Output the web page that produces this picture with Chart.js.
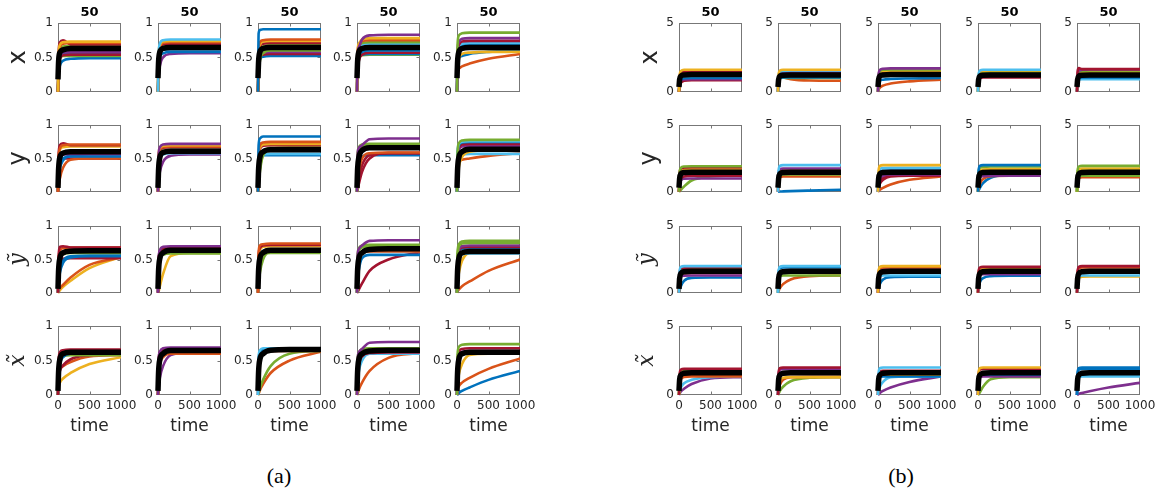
<!DOCTYPE html>
<html>
<head>
<meta charset="utf-8">
<script src="https://cdn.jsdelivr.net/npm/chart.js@4.4.0/dist/chart.umd.min.js"></script>
<style>
  body { margin: 0; background: #fff; width: 1163px; height: 491px; position: relative; overflow: hidden; }
  canvas { position: absolute; }
  .cap { position: absolute; font-family: 'Liberation Serif', serif; font-size: 22px; color: #000; transform: translateX(-50%); }
</style>
</head>
<body>
<div class="cap" style="left:279px; top:463px">(a)</div>
<div class="cap" style="left:901px; top:463px">(b)</div>
<script>
// sample times shared by every curve
const timeGrid = [0, 10, 30, 80, 200, 500, 1000];
const xTickValues = [0, 500, 1000];
const yTicksA = [0, 0.5, 1];
const yTicksB = [0, 5];
const rowLabels = ['x', 'y', '\u1EF9', 'x\u0303'];
const columnTitle = '50';
const timeLabel = 'time';

// b o y p g c r = matlab default order, k = mean curve
const lineColors = { b: '#0072BD', o: '#D95319', y: '#EDB120', p: '#7E2F8E', g: '#77AC30', c: '#4DBEEE', r: '#A2142F', k: '#000000' };

// panel (a), one entry per column: [color, values at timeGrid...]
const aRowX = [
  [['y',0,.55,.68,.72,.73,.73,.73],['o',0,.5,.65,.7,.71,.71,.71],['r',0,.55,.72,.75,.69,.69,.69],['g',0,.45,.6,.66,.67,.67,.67],
   ['c',0,.4,.55,.62,.63,.63,.63],['p',0,.4,.52,.57,.58,.58,.58],['r',0,.35,.48,.53,.54,.54,.54],['g',0,.4,.5,.52,.52,.52,.52],
   ['b',0,.35,.5,.55,.56,.56,.56],['b',0,.25,.38,.45,.48,.49,.49],['k',.18,.45,.57,.61,.63,.63,.63]],
  [['c',0,.55,.7,.75,.76,.76,.76],['y',0,.55,.68,.73,.74,.74,.74],['o',0,.5,.65,.71,.72,.72,.72],['r',0,.5,.63,.69,.7,.7,.7],
   ['g',0,.45,.6,.66,.67,.67,.67],['b',0,.4,.55,.61,.62,.62,.62],['b',0,.35,.5,.56,.58,.58,.58],['p',0,.22,.38,.5,.55,.56,.56],
   ['k',.2,.45,.58,.63,.645,.645,.645]],
  [['b',0,.85,.9,.91,.91,.91,.91],['o',0,.6,.72,.75,.76,.76,.76],['y',0,.55,.68,.73,.74,.74,.74],['r',0,.5,.65,.7,.71,.71,.71],
   ['g',0,.4,.58,.66,.68,.68,.68],['g',0,.25,.45,.56,.6,.6,.6],['p',0,.4,.52,.57,.58,.58,.58],['r',0,.35,.5,.54,.55,.55,.55],
   ['b',0,.35,.47,.51,.52,.52,.52],['k',.2,.45,.58,.63,.645,.645,.645]],
  [['p',0,.55,.65,.76,.82,.83,.83],['y',0,.6,.7,.76,.78,.78,.78],['o',0,.55,.68,.74,.75,.75,.75],['g',0,.5,.65,.71,.72,.72,.72],
   ['c',0,.5,.62,.68,.7,.7,.7],['b',0,.35,.52,.58,.6,.6,.6],['r',0,.3,.45,.54,.57,.57,.57],['b',0,.4,.5,.54,.55,.55,.55],
   ['g',0,.4,.5,.53,.54,.54,.54],['k',.2,.45,.58,.63,.645,.645,.645]],
  [['g',0,.7,.82,.85,.86,.86,.86],['p',0,.6,.72,.77,.78,.78,.78],['r',0,.55,.68,.73,.74,.74,.74],['c',0,.55,.66,.7,.71,.71,.71],
   ['b',0,.55,.65,.68,.69,.69,.69],['y',0,.35,.48,.55,.57,.58,.58],['b',0,.4,.5,.52,.55,.58,.6],['o',0,.3,.34,.37,.41,.48,.55],
   ['k',.2,.45,.58,.63,.645,.645,.645]]
];
const aRowY = [
  [['o',0,.5,.65,.7,.71,.71,.71],['r',0,.55,.7,.73,.7,.7,.7],['y',0,.5,.63,.67,.68,.68,.68],['g',0,.45,.56,.6,.61,.61,.61],
   ['p',0,.4,.52,.56,.57,.57,.57],['b',0,.25,.4,.5,.53,.53,.53],['b',0,.2,.35,.47,.55,.56,.56],['o',0,.08,.2,.36,.48,.5,.5],
   ['r',0,.35,.46,.5,.5,.5,.5],['k',.06,.35,.52,.58,.6,.6,.6]],
  [['p',0,.55,.67,.71,.72,.72,.72],['y',0,.55,.66,.69,.7,.7,.7],['o',0,.5,.63,.67,.68,.68,.68],['r',0,.5,.62,.66,.67,.67,.67],
   ['g',0,.45,.58,.62,.63,.63,.63],['b',0,.4,.53,.58,.59,.59,.59],['c',0,.35,.5,.56,.58,.58,.58],['p',0,.15,.3,.45,.54,.56,.56],
   ['k',.06,.35,.52,.59,.61,.61,.61]],
  [['b',0,.7,.8,.83,.83,.83,.83],['o',0,.55,.7,.74,.75,.75,.75],['y',0,.5,.66,.71,.72,.72,.72],['r',0,.5,.64,.69,.7,.7,.7],
   ['g',0,.1,.3,.55,.66,.67,.67],['g',0,.15,.35,.55,.62,.62,.62],['c',0,.4,.52,.56,.57,.57,.57],['b',0,.35,.5,.55,.55,.55,.55],
   ['k',.06,.35,.52,.6,.63,.63,.63]],
  [['p',0,.55,.66,.7,.79,.8,.8],['g',0,.55,.67,.71,.72,.72,.72],['g',0,.5,.64,.69,.7,.7,.7],['y',0,.5,.62,.67,.68,.68,.68],
   ['c',0,.45,.58,.63,.65,.65,.65],['o',0,.1,.3,.5,.58,.59,.59],['r',0,.03,.12,.3,.5,.58,.58],['r',0,.05,.2,.4,.55,.58,.58],
   ['b',0,.3,.45,.53,.55,.55,.55],['k',.06,.35,.52,.62,.66,.66,.66]],
  [['g',0,.6,.73,.77,.78,.78,.78],['c',0,.6,.72,.75,.76,.76,.76],['b',0,.55,.7,.74,.75,.75,.75],['r',0,.5,.66,.71,.72,.72,.72],
   ['p',0,.5,.63,.68,.69,.69,.69],['y',0,.2,.38,.52,.6,.62,.62],['c',0,.4,.52,.56,.57,.57,.57],['o',0,.35,.45,.48,.5,.54,.58],
   ['k',.06,.35,.52,.6,.64,.64,.64]]
];
const aRowYt = [
  [['r',0,.55,.69,.7,.68,.68,.68],['o',0,.5,.63,.67,.68,.68,.68],['c',0,.45,.58,.62,.63,.63,.63],['g',0,.4,.53,.58,.6,.6,.6],
   ['b',0,.15,.3,.45,.53,.55,.55],['b',0,.2,.35,.48,.55,.56,.56],['r',0,.35,.47,.51,.52,.52,.52],['o',0,.03,.07,.12,.23,.42,.53],
   ['y',0,.01,.04,.09,.18,.37,.54],['k',.06,.35,.52,.6,.625,.63,.63]],
  [['p',0,.5,.64,.69,.7,.7,.7],['r',0,.5,.62,.67,.68,.68,.68],['o',0,.45,.6,.65,.66,.66,.66],['b',0,.4,.55,.61,.62,.62,.62],
   ['g',0,.3,.48,.57,.59,.59,.59],['y',0,.02,.1,.28,.55,.6,.6],['k',.06,.35,.52,.6,.64,.64,.64]],
  [['o',0,.6,.71,.73,.74,.74,.74],['r',0,.55,.67,.71,.72,.72,.72],['y',0,.5,.64,.69,.7,.7,.7],['b',0,.45,.58,.63,.65,.65,.65],
   ['g',0,.12,.3,.5,.62,.63,.63],['g',0,.35,.5,.58,.6,.6,.6],['k',.06,.35,.52,.6,.64,.64,.64]],
  [['p',0,.55,.66,.71,.78,.79,.79],['g',0,.55,.67,.71,.72,.72,.72],['g',0,.5,.63,.68,.69,.69,.69],['o',0,.4,.55,.6,.62,.62,.62],
   ['c',0,.4,.55,.61,.63,.63,.63],['b',0,.2,.35,.52,.57,.57,.57],['r',0,.01,.05,.14,.33,.5,.61],['k',.06,.35,.52,.6,.65,.66,.66]],
  [['g',0,.6,.73,.77,.78,.78,.78],['g',0,.55,.7,.74,.75,.75,.75],['p',0,.5,.65,.7,.71,.71,.71],['r',0,.5,.63,.68,.69,.69,.69],
   ['b',0,.5,.63,.66,.67,.67,.67],['c',0,.45,.55,.58,.59,.59,.59],['y',0,.15,.3,.48,.6,.61,.61],['o',0,.02,.05,.1,.17,.33,.5],
   ['k',.06,.35,.52,.6,.62,.62,.62]]
];
const aRowXt = [
  [['r',0,.5,.62,.65,.66,.66,.66],['o',0,.45,.6,.64,.65,.65,.65],['c',0,.45,.58,.62,.63,.63,.63],['b',0,.3,.45,.55,.6,.61,.61],
   ['g',0,.4,.52,.58,.6,.6,.6],['g',0,.35,.5,.56,.58,.58,.58],['r',0,.25,.35,.43,.52,.58,.6],['o',0,.3,.38,.42,.48,.56,.58],
   ['y',0,.12,.18,.24,.32,.45,.55],['k',.06,.35,.52,.6,.62,.62,.62]],
  [['p',0,.5,.63,.68,.69,.69,.69],['r',0,.5,.62,.66,.67,.67,.67],['g',0,.4,.55,.62,.63,.63,.63],['o',0,.3,.45,.55,.6,.6,.6],
   ['y',0,.3,.48,.57,.62,.62,.62],['p',0,.1,.25,.42,.58,.62,.62],['k',.06,.35,.52,.6,.645,.645,.645]],
  [['c',0,.55,.65,.68,.68,.68,.68],['b',0,.5,.62,.66,.67,.67,.67],['o',0,.45,.57,.62,.64,.64,.64],['g',0,.03,.1,.22,.42,.6,.64],
   ['o',0,.02,.07,.16,.32,.5,.63],['k',.06,.35,.52,.6,.65,.66,.66]],
  [['p',0,.5,.62,.67,.76,.77,.77],['g',0,.5,.62,.67,.68,.68,.68],['y',0,.45,.58,.64,.65,.65,.65],['r',0,.3,.45,.56,.61,.62,.62],
   ['c',0,.2,.35,.5,.6,.6,.6],['b',0,.35,.5,.58,.6,.6,.6],['o',0,.02,.08,.18,.35,.54,.61],['k',.06,.35,.52,.6,.64,.65,.65]],
  [['g',0,.6,.7,.73,.74,.74,.74],['r',0,.5,.63,.67,.68,.68,.68],['p',0,.45,.58,.63,.64,.64,.64],['b',0,.45,.56,.6,.61,.61,.61],
   ['c',0,.4,.52,.58,.6,.6,.6],['y',0,.15,.3,.45,.58,.6,.6],['o',0,.08,.13,.18,.25,.38,.53],['b',0,.01,.03,.06,.11,.22,.35],
   ['k',.06,.35,.52,.6,.62,.62,.62]]
];

// panel (b)
const bRowX = [
  [['y',0,1.2,1.5,1.6,1.6,1.6,1.6],['r',0,1.1,1.4,1.5,1.5,1.5,1.5],['o',0,1,1.3,1.4,1.45,1.45,1.45],['g',0,.9,1.15,1.25,1.3,1.3,1.3],
   ['c',0,.8,1.05,1.12,1.15,1.15,1.15],['b',0,.6,.9,.98,1,1,1],['p',0,.5,.8,.9,.92,.92,.92],['r',0,.4,.65,.8,.85,.85,.85],
   ['k',.35,.9,1.15,1.22,1.25,1.25,1.25]],
  [['y',0,1.3,1.55,1.6,1.6,1.6,1.6],['c',0,1.2,1.45,1.52,1.55,1.55,1.55],['p',0,1,1.3,1.38,1.4,1.4,1.4],['b',0,.8,1,1.05,1.05,1.05,1.05],
   ['g',0,.8,1,1.02,1,1,1],['o',0,1,1.15,1.05,.92,.82,.8],['k',.35,.9,1.15,1.2,1.22,1.22,1.22]],
  [['p',0,1.3,1.6,1.68,1.7,1.7,1.7],['g',0,1.2,1.5,1.6,1.62,1.62,1.62],['y',0,1.1,1.4,1.5,1.52,1.52,1.52],['r',0,1,1.3,1.38,1.4,1.4,1.4],
   ['c',0,.9,1.1,1.15,1.15,1.15,1.15],['b',0,.6,.8,.88,.93,.97,1],['o',0,.15,.3,.45,.6,.76,.88],['k',.35,.9,1.15,1.22,1.25,1.25,1.25]],
  [['c',0,1.3,1.55,1.6,1.6,1.6,1.6],['y',0,1.2,1.45,1.52,1.55,1.55,1.55],['g',0,1.1,1.35,1.42,1.45,1.45,1.45],['b',0,1,1.25,1.3,1.32,1.32,1.32],
   ['r',0,.8,1,1.05,1.05,1.05,1.05],['k',.35,.9,1.15,1.2,1.22,1.22,1.22]],
  [['r',0,1.5,1.72,1.65,1.65,1.65,1.65],['p',0,1.3,1.55,1.6,1.62,1.62,1.62],['g',0,1.2,1.45,1.52,1.55,1.55,1.55],['y',0,1.1,1.35,1.4,1.42,1.42,1.42],
   ['b',0,.8,1,1.05,1.05,1.05,1.05],['c',0,.7,.88,.92,.92,.92,.92],['k',.35,.9,1.15,1.2,1.22,1.22,1.22]]
];
const bRowY = [
  [['g',0,1.4,1.8,1.9,1.92,1.92,1.92],['r',0,1.4,1.75,1.82,1.85,1.85,1.85],['y',0,1.3,1.65,1.72,1.75,1.75,1.75],['o',0,1,1.4,1.55,1.6,1.6,1.6],
   ['r',0,.6,1,1.15,1.2,1.2,1.2],['p',0,.5,.85,.98,1,1,1],['b',0,.8,1.2,1.35,1.38,1.38,1.38],['g',0,.05,.15,.4,.85,1.15,1.25],
   ['k',.3,1,1.35,1.45,1.47,1.47,1.47]],
  [['c',0,1.6,1.95,2,2,2,2],['p',0,1.4,1.7,1.75,1.75,1.75,1.75],['y',0,1.3,1.6,1.65,1.65,1.65,1.65],['g',0,1,1.25,1.3,1.3,1.3,1.3],
   ['o',0,.9,1.1,1.15,1.15,1.15,1.15],['b',0,.01,.02,.03,.05,.09,.15],['k',.3,1,1.35,1.45,1.47,1.47,1.47]],
  [['y',0,1.6,1.95,2,2,2,2],['c',0,1.4,1.7,1.78,1.8,1.8,1.8],['b',0,1.2,1.5,1.58,1.6,1.6,1.6],['p',0,.7,1,1.2,1.3,1.3,1.3],
   ['r',0,.3,.6,.9,1.15,1.2,1.2],['r',0,.4,.8,1.05,1.2,1.22,1.22],['o',0,.05,.15,.3,.55,.9,1.15],['k',.3,1,1.35,1.45,1.47,1.47,1.47]],
  [['b',0,1.6,1.95,2,2,2,2],['g',0,1.5,1.8,1.87,1.9,1.9,1.9],['y',0,1.3,1.6,1.67,1.7,1.7,1.7],['p',0,.8,1.1,1.18,1.2,1.2,1.2],
   ['o',0,.3,.6,.95,1.18,1.2,1.2],['b',0,.1,.3,.65,1.05,1.25,1.3],['k',.3,1,1.35,1.45,1.47,1.47,1.47]],
  [['g',0,1.6,1.9,1.95,1.95,1.95,1.95],['y',0,1.4,1.7,1.75,1.75,1.75,1.75],['g',0,1.3,1.6,1.65,1.65,1.65,1.65],['g',0,.9,1.15,1.2,1.2,1.2,1.2],
   ['o',0,.8,1.05,1.1,1.1,1.1,1.1],['b',0,1.1,1.35,1.4,1.4,1.4,1.4],['k',.3,1,1.35,1.45,1.47,1.47,1.47]]
];
const bRowYt = [
  [['c',0,1.6,1.95,2,2,2,2],['r',0,1.5,1.8,1.87,1.9,1.9,1.9],['g',0,1.4,1.7,1.77,1.8,1.8,1.8],['y',0,1.3,1.6,1.67,1.7,1.7,1.7],
   ['p',0,.9,1.2,1.28,1.3,1.3,1.3],['b',0,.2,.5,.9,1.12,1.15,1.15],['o',0,1,1.35,1.45,1.48,1.48,1.48],['k',.3,1.1,1.45,1.58,1.62,1.62,1.62]],
  [['c',0,1.6,1.95,2,2,2,2],['b',0,1.5,1.85,1.9,1.9,1.9,1.9],['y',0,1.3,1.6,1.67,1.7,1.7,1.7],['g',0,1,1.25,1.3,1.3,1.3,1.3],
   ['o',0,.15,.35,.65,1,1.25,1.3],['k',.3,1.1,1.45,1.58,1.62,1.62,1.62]],
  [['y',0,1.6,1.95,2,2,2,2],['o',0,1.5,1.85,1.9,1.9,1.9,1.9],['p',0,1.4,1.75,1.8,1.8,1.8,1.8],['r',0,1.2,1.5,1.55,1.55,1.55,1.55],
   ['c',0,1,1.25,1.3,1.3,1.3,1.3],['b',0,.3,.65,1,1.18,1.2,1.2],['k',.3,1.1,1.45,1.58,1.62,1.62,1.62]],
  [['r',0,1.6,1.9,1.95,1.95,1.95,1.95],['y',0,1.5,1.8,1.85,1.85,1.85,1.85],['p',0,1.1,1.35,1.4,1.4,1.4,1.4],['b',0,.4,.8,1.1,1.25,1.28,1.28],
   ['g',0,1.2,1.5,1.55,1.55,1.55,1.55],['k',.3,1.1,1.45,1.58,1.62,1.62,1.62]],
  [['r',0,1.6,1.95,2,2,2,2],['o',0,1.5,1.85,1.9,1.9,1.9,1.9],['b',0,1.2,1.45,1.5,1.5,1.5,1.5],['c',0,.9,1.2,1.3,1.3,1.3,1.3],
   ['y',0,.9,1.15,1.2,1.22,1.22,1.22],['k',.3,1.1,1.45,1.58,1.62,1.62,1.62]]
];
const bRowXt = [
  [['r',0,1.5,1.85,1.9,1.9,1.9,1.9],['g',0,1.4,1.7,1.77,1.8,1.8,1.8],['y',0,1.2,1.5,1.55,1.55,1.55,1.55],['o',0,.8,1.15,1.3,1.35,1.35,1.35],
   ['c',0,.3,.55,.85,1.1,1.3,1.35],['b',0,.9,1.25,1.4,1.42,1.42,1.42],['p',0,.1,.25,.45,.8,1.2,1.3],['k',.3,1.1,1.45,1.58,1.62,1.62,1.62]],
  [['r',0,1.6,1.95,2,2,2,2],['p',0,1.5,1.85,1.9,1.9,1.9,1.9],['b',0,1.3,1.6,1.65,1.65,1.65,1.65],['y',0,.6,1,1.25,1.3,1.3,1.3],
   ['o',0,.4,.75,1.1,1.3,1.32,1.32],['g',0,.1,.3,.6,1,1.25,1.3],['k',.3,1.1,1.45,1.58,1.62,1.62,1.62]],
  [['c',0,1.6,1.95,2,2,2,2],['r',0,1.4,1.7,1.75,1.75,1.75,1.75],['y',0,1.2,1.45,1.5,1.5,1.5,1.5],['b',0,1,1.3,1.35,1.35,1.35,1.35],
   ['c',0,.3,.6,.95,1.3,1.35,1.35],['p',0,.05,.15,.3,.55,.95,1.35],['k',.3,1.1,1.45,1.58,1.62,1.62,1.62]],
  [['y',0,1.6,1.95,2,2,2,2],['r',0,1.5,1.85,1.9,1.9,1.9,1.9],['b',0,1.2,1.45,1.5,1.5,1.5,1.5],['p',0,1,1.3,1.35,1.35,1.35,1.35],
   ['c',0,1.1,1.4,1.45,1.45,1.45,1.45],['g',0,.05,.2,.6,1.15,1.3,1.3],['k',.3,1.1,1.45,1.58,1.62,1.62,1.62]],
  [['b',0,1.6,1.95,2,2,2,2],['b',0,1.5,1.85,1.9,1.9,1.9,1.9],['r',0,1.2,1.5,1.55,1.55,1.55,1.55],['c',0,1,1.3,1.35,1.35,1.35,1.35],
   ['p',0,.03,.08,.15,.28,.55,.88],['k',.3,1.1,1.45,1.58,1.62,1.62,1.62]]
];

// layout of the axes boxes (page pixels)
const panels = [
  { rows: [aRowX, aRowY, aRowYt, aRowXt], lefts: [58, 158, 258, 357, 457], yTicks: yTicksA, labelPad: [4, 4, 5, 5] },
  { rows: [bRowX, bRowY, bRowYt, bRowXt], lefts: [679, 778, 878, 978, 1077], yTicks: yTicksB, labelPad: [15, 14, 13, 13] }
];
const rowTops = [23, 123, 224, 324];
const boxW = 63, boxH = 71, padRight = 20;
const tickFont = { family: 'DejaVu Sans', size: 12 };
const axisGray = '#262626';

// matlab style box with inward ticks
const boxPlugin = {
  id: 'matlabBox',
  beforeDatasetsDraw(chart, args, opts) {
    const { ctx, chartArea: a, scales: { x, y } } = chart;
    const l = Math.round(a.left) + 0.5, r = Math.round(a.right) - 0.5;
    const t = Math.round(a.top) + 0.5, b = Math.round(a.bottom) - 0.5;
    ctx.save();
    ctx.strokeStyle = '#777';
    ctx.lineWidth = 1;
    ctx.strokeRect(l, t, r - l, b - t);
    ctx.beginPath();
    const xm = Math.round(x.getPixelForValue(xTickValues[1])) + 0.5;
    ctx.moveTo(xm, b); ctx.lineTo(xm, b - 3);
    ctx.moveTo(xm, t); ctx.lineTo(xm, t + 3);
    if (opts.midY !== undefined) {
      const ym = Math.round(y.getPixelForValue(opts.midY)) + 0.5;
      ctx.moveTo(l, ym); ctx.lineTo(l + 3, ym);
      ctx.moveTo(r, ym); ctx.lineTo(r - 3, ym);
    }
    ctx.stroke();
    ctx.restore();
  }
};

function makeSubplot(panel, row, col) {
  const lines = panel.rows[row][col];
  const boxL = panel.lefts[col], boxT = rowTops[row];
  const yW = col === 0 ? 58 : 30;
  const bottomRow = row === rowTops.length - 1;
  let canvasTop, padTop;
  if (row === 0) { canvasTop = 0; padTop = boxT - 18.6; }
  else { canvasTop = boxT - 10; padTop = 10; }
  const xH = bottomRow ? 440 - (boxT + boxH) : 0;
  const padBottom = bottomRow ? 0 : 10;
  const w = yW + boxW + padRight;
  const h = (boxT - canvasTop) + boxH + (bottomRow ? xH : padBottom);

  const canvas = document.createElement('canvas');
  canvas.width = w; canvas.height = h;
  canvas.style.left = (boxL - yW) + 'px';
  canvas.style.top = canvasTop + 'px';
  document.body.appendChild(canvas);

  const yTicks = panel.yTicks;
  const tilde = row >= 2;
  new Chart(canvas, {
    type: 'line',
    data: {
      datasets: lines.map(l => ({
        data: timeGrid.map((t, i) => ({ x: t, y: l[i + 1] })),
        borderColor: lineColors[l[0]],
        borderWidth: l[0] === 'k' ? 5.5 : 2.6,
        pointRadius: 0,
        cubicInterpolationMode: 'monotone',
        clip: { left: 4, top: 0, right: 0, bottom: 4 },
        order: l[0] === 'k' ? 0 : 1
      }))
    },
    options: {
      responsive: false, animation: false, events: [],
      layout: { padding: { top: padTop, right: padRight, bottom: padBottom, left: 0 } },
      plugins: {
        legend: { display: false },
        tooltip: { enabled: false },
        title: { display: row === 0, fullSize: false, text: columnTitle, color: '#000', font: { family: 'DejaVu Sans', size: 13, weight: 'bold' }, padding: { top: 0, bottom: 3 } },
        matlabBox: { midY: yTicks.length === 3 ? yTicks[1] : undefined }
      },
      scales: {
        x: {
          type: 'linear', min: 0, max: 1000, display: bottomRow,
          afterBuildTicks: s => { s.ticks = xTickValues.map(v => ({ value: v })); },
          afterFit: s => { s.height = xH; },
          grid: { display: false, drawTicks: false }, border: { display: false },
          ticks: { font: tickFont, color: axisGray, padding: 4, maxRotation: 0, minRotation: 0, autoSkip: false, callback: v => String(v) },
          title: { display: true, text: timeLabel, color: axisGray, font: { family: 'DejaVu Sans', size: 17 }, padding: { top: 0, bottom: 3 } }
        },
        y: {
          type: 'linear', min: yTicks[0], max: yTicks[yTicks.length - 1],
          afterBuildTicks: s => { s.ticks = yTicks.map(v => ({ value: v })); },
          afterFit: s => { s.width = yW; },
          grid: { display: false, drawTicks: false }, border: { display: false },
          ticks: { font: tickFont, color: axisGray, padding: 5, callback: v => String(v) },
          title: {
            display: col === 0, text: rowLabels[row], color: axisGray,
            font: tilde ? { family: 'DejaVu Serif', style: 'italic', size: 22 } : { family: 'DejaVu Sans', size: 24 },
            padding: { top: panel.labelPad[row], bottom: 0 }
          }
        }
      }
    },
    plugins: [boxPlugin]
  });
}

panels.forEach(p => {
  for (let r = 0; r < rowTops.length; r++) {
    for (let c = 0; c < p.lefts.length; c++) makeSubplot(p, r, c);
  }
});
</script>
</body>
</html>
